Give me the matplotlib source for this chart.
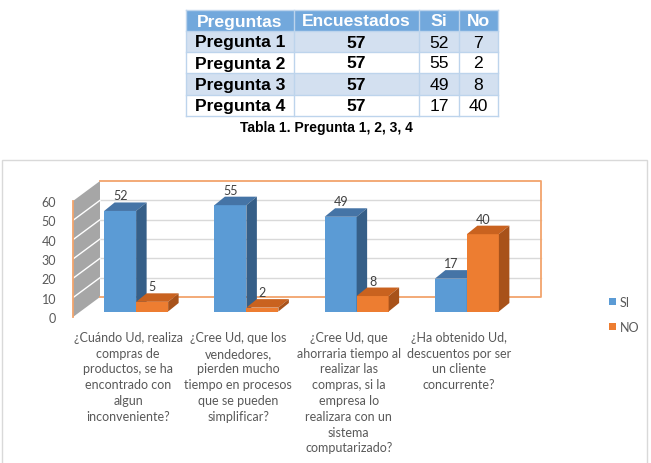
import matplotlib
matplotlib.use("Agg")
import matplotlib.pyplot as plt
from matplotlib.patches import Polygon, Rectangle

# ---------------- data ----------------
table_header = ["Preguntas", "Encuestados", "Si", "No"]
preguntas = ["Pregunta 1", "Pregunta 2", "Pregunta 3", "Pregunta 4"]
encuestados = [57, 57, 57, 57]
tabla_si = [52, 55, 49, 17]
tabla_no = [7, 2, 8, 40]
caption = "Tabla 1. Pregunta 1, 2, 3, 4"

categorias = [
    "¿Cuándo Ud, realiza\ncompras de\nproductos, se ha\nencontrado con\nalgun\ninconveniente?",
    "¿Cree Ud, que los\nvendedores,\npierden mucho\ntiempo en procesos\nque se pueden\nsimplificar?",
    "¿Cree Ud, que\nahorraria tiempo al\nrealizar las\ncompras, si la\nempresa lo\nrealizara con un\nsistema\ncomputarizado?",
    "¿Ha obtenido Ud,\ndescuentos por ser\nun cliente\nconcurrente?",
]
serie_si = [52, 55, 49, 17]
serie_no = [5, 2, 8, 40]
series_names = ["SI", "NO"]
y_ticks = [0, 10, 20, 30, 40, 50, 60]

# ---------------- style ----------------
W, H = 651, 464
fig = plt.figure(figsize=(W / 100, H / 100), dpi=100)
fig.patch.set_facecolor("white")

LBL = "#595959"
F_CHART = ["Lato", "DejaVu Sans"]
FS = 9

blue = ("#5B9BD5", "#4574A6", "#365F88")   # front, top, side
orange = ("#ED7D31", "#C9621F", "#A8521A")

# overlay axes in pixel coordinates (table, caption, frame)
ov = fig.add_axes([0, 0, 1, 1], zorder=0)
ov.set_xlim(0, W)
ov.set_ylim(H, 0)
ov.axis("off")

# table
col_edges = [186, 294, 419, 459, 498]
row_edges = [11, 32, 53, 74, 95.5, 117]
hdr_bg = "#72A8DC"
light_bg = "#D3E0F0"
line_c = "#BDD4EC"
for r in range(5):
    y0, y1 = row_edges[r], row_edges[r + 1]
    if r == 0:
        bg = hdr_bg
    elif r % 2 == 1:
        bg = light_bg
    else:
        bg = "white"
    ov.add_patch(Rectangle((col_edges[0], y0), col_edges[-1] - col_edges[0], y1 - y0,
                           facecolor=bg, edgecolor="none"))
for x in col_edges:
    ov.plot([x, x], [row_edges[0], row_edges[-1]], color=line_c, lw=1)
for y in row_edges:
    ov.plot([col_edges[0], col_edges[-1]], [y, y], color=line_c, lw=1)

TF = ["Liberation Sans", "DejaVu Sans"]
TFS = 12.6
for c, h in enumerate(table_header):
    xc = (col_edges[c] + col_edges[c + 1]) / 2
    yc = (row_edges[0] + row_edges[1]) / 2
    ov.text(xc, yc + 0.5, h, ha="center", va="center", color="white",
            fontsize=TFS, fontweight="bold", family=TF)
for r in range(4):
    yc = (row_edges[r + 1] + row_edges[r + 2]) / 2 + 0.5
    vals = [preguntas[r], str(encuestados[r]), str(tabla_si[r]), str(tabla_no[r])]
    weights = ["bold", "bold", "normal", "normal"]
    for c in range(4):
        xc = (col_edges[c] + col_edges[c + 1]) / 2
        ov.text(xc, yc, vals[c], ha="center", va="center", color="black",
                fontsize=TFS, fontweight=weights[c], family=TF)

ov.text(326, 128.5, caption, ha="center", va="center", fontsize=10,
        fontweight="bold", family=TF, color="black")

# chart frame
ov.add_patch(Rectangle((2, 161), 645, 320, facecolor="white", edgecolor="#D9D9D9", lw=1))

# ---------------- chart axes (front plane) ----------------
left_px, right_px, zero_px, top_px = 73, 514, 318, 202
ax = fig.add_axes([left_px / W, (H - zero_px) / H, (right_px - left_px) / W,
                   (zero_px - top_px) / H], zorder=1)
ax.patch.set_visible(False)
n = len(categorias)
ax.set_xlim(-0.5, n - 0.5)
ax.set_ylim(0, 60)
for s in ax.spines.values():
    s.set_visible(False)

ux = (right_px - left_px) / n        # px per x unit
uy = (zero_px - top_px) / 60.0       # px per y unit


def off(dx, dy):
    return dx / ux, dy / uy


bx, by = off(27, 20)       # back wall depth
fx, fy = off(8, 5.5)       # bar front offset
dx, dy = off(10.5, 8.5)    # bar depth
bw = 32 / ux

x0, x1 = -0.5, n - 0.5
wall_c = "#F2A46C"
# back wall
ax.add_patch(Polygon([(x0 + bx, by), (x1 + bx, by), (x1 + bx, 60 + by), (x0 + bx, 60 + by)],
                     closed=True, facecolor="white", edgecolor="none", clip_on=False, zorder=1))
for v in y_ticks[1:-1]:
    ax.plot([x0 + bx, x1 + bx], [v + by, v + by], color="#D9D9D9", lw=1, clip_on=False, zorder=1.2)
ax.plot([x0 + bx, x1 + bx, x1 + bx, x0 + bx], [60 + by, 60 + by, by, by],
        color=wall_c, lw=1.3, clip_on=False, zorder=1.3)
# side wall
ax.add_patch(Polygon([(x0, 0), (x0, 60), (x0 + bx, 60 + by), (x0 + bx, by)],
                     closed=True, facecolor="#A6A6A6", edgecolor="none", clip_on=False, zorder=1))
for v in y_ticks[1:-1]:
    ax.plot([x0, x0 + bx], [v, v + by], color="white", lw=1, clip_on=False, zorder=1.2)
ax.plot([x0, x0], [0, 60], color=wall_c, lw=1.3, clip_on=False, zorder=1.3)

# bars
handles = []
for k, (vals, cols) in enumerate([(serie_si, blue), (serie_no, orange)]):
    xs = [i + (k - 0.5) * bw + fx for i in range(n)]
    bars = ax.bar(xs, vals, width=bw, bottom=fy, color=cols[0], edgecolor="none",
                  zorder=3 + k, clip_on=False, label=series_names[k])
    handles.append(bars)
    for xc, v in zip(xs, vals):
        xl, xr = xc - bw / 2, xc + bw / 2
        top = fy + v
        ax.add_patch(Polygon([(xl, top), (xr, top), (xr + dx, top + dy), (xl + dx, top + dy)],
                             closed=True, facecolor=cols[1], edgecolor="none",
                             zorder=3 + k, clip_on=False))
        ax.add_patch(Polygon([(xr, fy), (xr, top), (xr + dx, top + dy), (xr + dx, fy + dy)],
                             closed=True, facecolor=cols[2], edgecolor="none",
                             zorder=3 + k, clip_on=False))
        ax.text(xc, top + dy + off(0, 1)[1], str(v), ha="center", va="bottom",
                fontsize=FS, color="#404040", family=F_CHART, zorder=6)

ax.set_yticks(y_ticks)
ax.set_yticklabels([str(t) for t in y_ticks], fontsize=FS, color=LBL, family=F_CHART)
ax.set_xticks(range(n))
ax.set_xticklabels(categorias, fontsize=FS, color=LBL, family=F_CHART, linespacing=1.38)
ax.tick_params(axis="y", length=0, pad=12)
ax.tick_params(axis="x", length=0, pad=10)

leg = fig.legend(handles=handles, labels=series_names, loc="upper left",
                 bbox_to_anchor=(598 / W, 1 - 286 / H), frameon=False,
                 handlelength=0.5, handleheight=0.5, handletextpad=0.35,
                 labelspacing=1.0, prop={"family": F_CHART, "size": FS})
for t in leg.get_texts():
    t.set_color(LBL)

fig.savefig("out.png", dpi=100, facecolor="white")
